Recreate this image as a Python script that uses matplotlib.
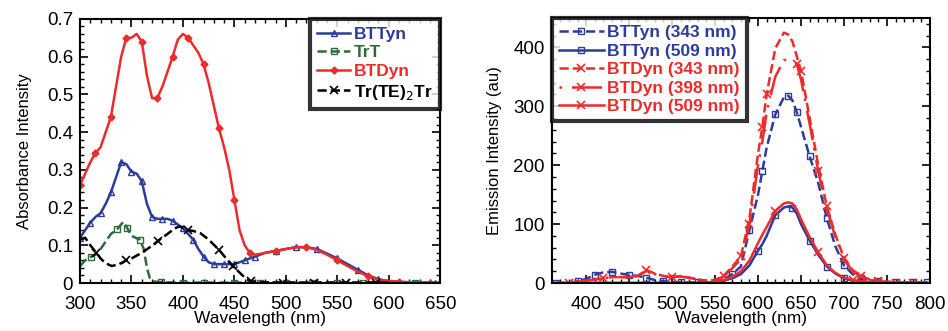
import matplotlib.pyplot as plt
from matplotlib.ticker import MultipleLocator
import numpy as np

plt.rcParams['font.family'] = ['Liberation Sans', 'DejaVu Sans']

BLUE = '#2c3c9c'
RED = '#ee2b2b'
GREEN = '#2d6b3c'

# absorbance (left)
wl_a = [300, 305, 310, 315, 320, 325, 330, 335, 340, 345, 350, 355, 360, 365,
        370, 375, 380, 385, 390, 395, 400, 405, 410, 415, 420, 425, 430, 435,
        440, 445, 450, 455, 460, 465, 470, 480, 490, 500, 510, 520, 530, 540,
        550, 560, 570, 580, 590, 600, 610, 620, 630, 640, 645]
bttyn = [0.12, 0.14, 0.16, 0.175, 0.185, 0.21, 0.24, 0.28, 0.32, 0.315, 0.295, 0.29,
         0.27, 0.21, 0.175, 0.17, 0.17, 0.17, 0.165, 0.155, 0.145, 0.13, 0.115,
         0.09, 0.07, 0.055, 0.05, 0.05, 0.05, 0.05, 0.05, 0.055, 0.06, 0.065,
         0.07, 0.08, 0.085, 0.09, 0.095, 0.095, 0.09, 0.078, 0.065, 0.05, 0.035,
         0.02, 0.01, 0.005, 0.003, 0.002, 0.001, 0.001, 0.001]
btdyn = [0.26, 0.29, 0.32, 0.345, 0.36, 0.40, 0.44, 0.52, 0.60, 0.65, 0.65, 0.66,
         0.64, 0.55, 0.49, 0.49, 0.52, 0.56, 0.60, 0.645, 0.66, 0.65, 0.63, 0.61,
         0.58, 0.53, 0.47, 0.41, 0.36, 0.30, 0.22, 0.14, 0.10, 0.08, 0.075, 0.08,
         0.085, 0.09, 0.095, 0.095, 0.088, 0.075, 0.06, 0.045, 0.03, 0.018,
         0.008, 0.005, 0.003, 0.002, 0.001, 0.001, 0.001]
wl_t = [300, 305, 311, 315, 320, 325, 330, 336, 342, 346, 350, 358, 362, 365,
        368, 372, 379, 400, 420, 450, 475, 500, 525, 550, 575, 600, 625, 650]
trt = [0.045, 0.06, 0.07, 0.075, 0.09, 0.11, 0.13, 0.142, 0.162, 0.145, 0.125,
       0.115, 0.09, 0.04, 0.012, 0.004, 0.002, 0.001, 0.001, 0.001, 0.001, 0.001,
       0.001, 0.001, 0.001, 0.001, 0.001, 0.001]
wl_k = [300, 305, 310, 316, 320, 325, 331, 338, 345, 350, 360, 368, 376, 385,
        392, 397, 405, 410, 417, 425, 435, 442, 449, 456, 462, 466, 475, 497,
        527, 558, 588, 600]
trte = [0.115, 0.12, 0.10, 0.08, 0.065, 0.052, 0.045, 0.05, 0.06, 0.065, 0.08,
        0.095, 0.112, 0.13, 0.145, 0.15, 0.14, 0.138, 0.132, 0.115, 0.088, 0.065,
        0.044, 0.025, 0.01, 0.005, 0.002, 0.001, 0.001, 0.001, 0.001, 0.001]

# emission (right)
wl_e = [365, 380, 390, 400, 410, 420, 430, 440, 450, 460, 470, 480, 490, 500,
        510, 520, 530, 540, 550, 560, 570, 580, 590, 600, 605, 610, 620, 630,
        635, 640, 645, 650, 660, 670, 680, 690, 700, 710, 720, 730, 740, 750,
        760, 770, 780, 790, 797]
e_ty343 = [0, 0, 3, 7, 14, 18, 19, 16, 14, 12, 9, 5, 3, 2, 1, 1, 1, 1, 2, 6,
           15, 28, 90, 150, 190, 230, 286, 315, 318, 310, 290, 265, 215, 170, 110,
           62, 30, 15, 8, 5, 3, 2, 1, 1, 1, 1, 1]
e_ty509 = [0, 0, 0, 0, 0, 0, 0, 0, 0, 0, 0, 0, 0, 0, 0, 0, 0, 1, 2, 4,
           8, 15, 30, 55, 66, 80, 115, 128, 130, 128, 118, 100, 72, 48, 28,
           16, 8, 4, 2, 1, 1, 0, 0, 0, 0, 0, 0]
e_dy343 = [0, 0, 2, 4, 6, 8, 10, 10, 10, 12, 22, 16, 12, 10, 12, 9, 6, 4, 5, 12,
           28, 45, 110, 220, 265, 320, 398, 425, 422, 410, 385, 360, 280, 200, 130,
           82, 42, 22, 12, 6, 3, 2, 1, 1, 1, 1, 1]
e_dy398 = [0, 0, 2, 4, 6, 8, 10, 10, 10, 12, 20, 15, 11, 10, 11, 9, 6, 4, 5, 11,
           25, 40, 100, 200, 240, 290, 350, 378, 380, 376, 372, 345, 270, 190, 125,
           78, 40, 20, 10, 5, 3, 2, 1, 1, 1, 1, 1]
e_dy509 = [0, 0, 0, 0, 0, 0, 0, 0, 0, 0, 0, 0, 0, 0, 0, 0, 0, 1, 2, 5,
           10, 20, 38, 68, 82, 95, 122, 135, 137, 135, 125, 108, 78, 52, 30,
           17, 9, 5, 3, 2, 1, 0, 0, 0, 0, 0, 0]

fig = plt.figure(figsize=(9.48, 3.31), dpi=100)
ax1 = fig.add_axes([0.0844, 0.145, 0.380, 0.798])
ax2 = fig.add_axes([0.582, 0.145, 0.399, 0.801])

ax1.plot(wl_a, bttyn, '-', color=BLUE, lw=1.8, marker='^', ms=5, mfc='none',
         mew=1.0, markevery=2, label='BTTyn')
ax1.plot(wl_t, trt, '--', color=GREEN, lw=1.8, marker='s', ms=5, mfc='none',
         mew=1.0, markevery=[2, 7, 9, 11, 16, 17, 18, 19, 20, 21, 22, 23, 24, 25, 26],
         label='TrT')
ax1.plot(wl_a, btdyn, '-', color=RED, lw=1.8, marker='D', ms=3.5,
         markevery=3, label='BTDyn')
ax1.plot(wl_k, trte, '--', color='black', lw=1.8, marker='x', ms=6, mew=1.2,
         markevery=[3, 8, 12, 16, 20, 22, 25, 27, 28, 29, 30],
         label=r'Tr(TE)$_2$Tr')

ax1.set_xlim(300, 650)
ax1.set_ylim(0, 0.7)
ax1.xaxis.set_major_locator(MultipleLocator(50))
ax1.xaxis.set_minor_locator(MultipleLocator(10))
ax1.yaxis.set_minor_locator(MultipleLocator(0.02))
ax1.set_yticks([0, 0.1, 0.2, 0.3, 0.4, 0.5, 0.6, 0.7],
               ['0', '0.1', '0.2', '0.3', '0.4', '0.5', '0.6', '0.7'])
ax1.set_xlabel('Wavelength (nm)', fontsize=12.5, labelpad=-1)
ax1.set_ylabel('Absorbance Intensity', fontsize=12, labelpad=11)
leg1 = ax1.legend(loc='upper right', frameon=True, fancybox=False,
                  borderaxespad=0, handlelength=1.9, labelspacing=0.2,
                  borderpad=0.45, handletextpad=0.2,
                  prop={'weight': 'bold', 'size': 12.5})
leg1.get_frame().set_edgecolor('black')
leg1.get_frame().set_linewidth(3)
for t, c in zip(leg1.get_texts(), [BLUE, GREEN, RED, 'black']):
    t.set_color(c)

ax2.plot(wl_e, e_ty343, '--', color=BLUE, lw=1.8, marker='s', ms=5, mfc='none',
         mew=1.0, markevery=2, label='BTTyn (343 nm)')
ax2.plot(wl_e, e_ty509, '-', color=BLUE, lw=1.8, marker='s', ms=5, mfc='none',
         mew=1.0, markevery=[23, 26, 29, 32, 34, 36, 38, 40], label='BTTyn (509 nm)')
ax2.plot(wl_e, e_dy343, '--', color=RED, lw=1.8, marker='x', ms=6, mew=1.2,
         markevery=[1, 5, 10, 13, 19, 21, 24, 25, 31, 34, 36, 38, 40],
         label='BTDyn (343 nm)')
ax2.plot(wl_e, e_dy398, linestyle=(0, (1, 4, 12, 3)), color=RED, lw=1.8,
         marker='x', ms=6, mew=1.2, markevery=[22, 30, 33], label='BTDyn (398 nm)')
ax2.plot(wl_e, e_dy509, '-', color=RED, lw=1.8, marker='x', ms=6, mew=1.2,
         markevery=[26, 33, 37, 40, 42, 44], label='BTDyn (509 nm)')

ax2.set_xlim(360, 800)
ax2.set_ylim(0, 450)
ax2.xaxis.set_minor_locator(MultipleLocator(10))
ax2.set_xticks([400, 450, 500, 550, 600, 650, 700, 750, 800])
ax2.yaxis.set_major_locator(MultipleLocator(100))
ax2.yaxis.set_minor_locator(MultipleLocator(20))
ax2.set_xlabel('Wavelength (nm)', fontsize=12.5, labelpad=-1)
ax2.set_ylabel('Emission Intensity (au)', fontsize=12, labelpad=8)
leg2 = ax2.legend(loc='upper left', frameon=True, fancybox=False,
                  borderaxespad=0, handlelength=2.6, labelspacing=0.2,
                  borderpad=0.4, handletextpad=0.2,
                  prop={'weight': 'bold', 'size': 12.5})
leg2.get_frame().set_edgecolor('black')
leg2.get_frame().set_linewidth(3)
for t, c in zip(leg2.get_texts(), [BLUE, BLUE, RED, RED, RED]):
    t.set_color(c)

for ax in (ax1, ax2):
    ax.tick_params(which='both', direction='in', top=True, right=True,
                   labelsize=13.5)
    ax.tick_params(axis='x', which='major', pad=9)
    ax.tick_params(axis='y', which='major', pad=5)
    ax.tick_params(which='major', length=6, width=1.2)
    ax.tick_params(which='minor', length=3, width=1.0)
    for s in ax.spines.values():
        s.set_linewidth(1.5)

fig.savefig('out.png', dpi=100)
